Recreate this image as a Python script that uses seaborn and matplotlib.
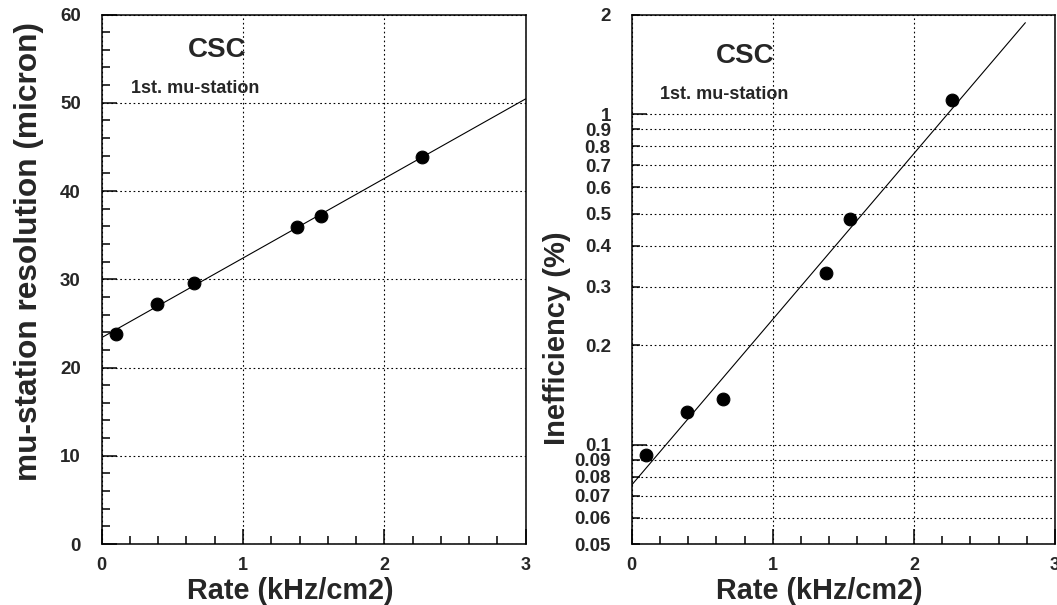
import numpy as np
import pandas as pd
import matplotlib
matplotlib.use("Agg")
import matplotlib.pyplot as plt
from matplotlib.ticker import FixedLocator, FixedFormatter, MultipleLocator
import seaborn as sns

rate = [0.10, 0.39, 0.65, 1.38, 1.55, 2.27]
resolution = [23.8, 27.2, 29.6, 35.9, 37.2, 43.8]
inefficiency = [0.093, 0.125, 0.137, 0.33, 0.48, 1.10]

# range over which the fitted lines are drawn
res_fit_range = [0.0, 3.0]
ineff_fit_range = [0.0, 2.79]

log_major = [0.1, 1]
log_major_labels = ["0.1", "1"]
log_minor = [0.05, 0.06, 0.07, 0.08, 0.09, 0.2, 0.3, 0.4, 0.5,
             0.6, 0.7, 0.8, 0.9, 2]
log_minor_labels = ["0.05", "0.06", "0.07", "0.08", "0.09", "0.2", "0.3",
                    "0.4", "0.5", "0.6", "0.7", "0.8", "0.9", "2"]

sns.set_style("ticks")
plt.rcParams['font.family'] = ['Liberation Sans', 'DejaVu Sans']
plt.rcParams['font.weight'] = 'bold'
plt.rcParams['axes.labelweight'] = 'bold'

df = pd.DataFrame({'rate': rate, 'res': resolution, 'ineff': inefficiency})

# straight-line fit for resolution, exponential fit for inefficiency
a1, b1 = np.polyfit(df['rate'], df['res'], 1)
a2, b2 = np.polyfit(df['rate'], np.log(df['ineff']), 1)
xf1 = np.linspace(res_fit_range[0], res_fit_range[1], 50)
xf2 = np.linspace(ineff_fit_range[0], ineff_fit_range[1], 50)
fit1 = pd.DataFrame({'x': xf1, 'y': a1 * xf1 + b1})
fit2 = pd.DataFrame({'x': xf2, 'y': np.exp(a2 * xf2 + b2)})

fig = plt.figure(figsize=(10.57, 6.05), dpi=100)
ax1 = fig.add_axes([0.0962, 0.1008, 0.4011, 0.8752])
ax2 = fig.add_axes([0.5976, 0.1008, 0.4005, 0.8752])

grid_kw = dict(color='black', linestyle=(0, (1.5, 2.5)), linewidth=0.8)

# left panel
sns.lineplot(data=fit1, x='x', y='y', ax=ax1, color='black', linewidth=0.8)
sns.scatterplot(data=df, x='rate', y='res', ax=ax1, color='black', s=85,
                edgecolor='black', zorder=3)
ax1.set_xlim(0, 3)
ax1.set_ylim(0, 60)
ax1.xaxis.set_major_locator(MultipleLocator(1))
ax1.xaxis.set_minor_locator(MultipleLocator(0.2))
ax1.yaxis.set_major_locator(MultipleLocator(10))
ax1.yaxis.set_minor_locator(MultipleLocator(2))
ax1.grid(True, which='major', **grid_kw)
ax1.set_xlabel('Rate (kHz/cm2)', fontsize=20.8)
ax1.set_ylabel('mu-station resolution (micron)', fontsize=22.8)
ax1.xaxis.set_label_coords(0.444, -0.062)
ax1.yaxis.set_label_coords(-0.136, 0.553)
ax1.text(0.816, 56.0, 'CSC', fontsize=20, ha='center', va='center')
ax1.text(0.205, 51.6, '1st. mu-station', fontsize=13, ha='left', va='center')

# right panel
sns.lineplot(data=fit2, x='x', y='y', ax=ax2, color='black', linewidth=0.8)
sns.scatterplot(data=df, x='rate', y='ineff', ax=ax2, color='black', s=85,
                edgecolor='black', zorder=3)
ax2.set_yscale('log')
ax2.set_xlim(0, 3)
ax2.set_ylim(0.05, 2)
ax2.xaxis.set_major_locator(MultipleLocator(1))
ax2.xaxis.set_minor_locator(MultipleLocator(0.2))
ax2.yaxis.set_major_locator(FixedLocator(log_major))
ax2.yaxis.set_major_formatter(FixedFormatter(log_major_labels))
ax2.yaxis.set_minor_locator(FixedLocator(log_minor))
ax2.yaxis.set_minor_formatter(FixedFormatter(log_minor_labels))
ax2.grid(True, which='major', **grid_kw)
ax2.yaxis.grid(True, which='minor', **grid_kw)
ax2.set_xlabel('Rate (kHz/cm2)', fontsize=20.8)
ax2.set_ylabel('Inefficiency (%)', fontsize=21)
ax2.xaxis.set_label_coords(0.4425, -0.062)
ax2.yaxis.set_label_coords(-0.143, 0.389)
ax2.text(0.268, 0.922, 'CSC', fontsize=20, ha='center', va='center',
         transform=ax2.transAxes)
ax2.text(0.067, 0.849, '1st. mu-station', fontsize=13, ha='left',
         va='center', transform=ax2.transAxes)

for ax in (ax1, ax2):
    for sp in ax.spines.values():
        sp.set_visible(True)
        sp.set_color('black')
        sp.set_linewidth(1.1)
    ax.tick_params(which='major', direction='in', length=11, width=1.1,
                   color='black')
    ax.tick_params(which='minor', direction='in', length=6, width=1.1,
                   color='black')
    ax.tick_params(axis='x', which='both', labelsize=13, pad=9)
    ax.tick_params(axis='y', which='both', labelsize=13.5, pad=15)
    ax.tick_params(top=False, right=False, which='both')
    for lab in (ax.get_xticklabels() + ax.get_yticklabels()
                + ax.get_yticklabels(minor=True)):
        lab.set_fontweight('bold')

fig.savefig('out.png', dpi=100)
